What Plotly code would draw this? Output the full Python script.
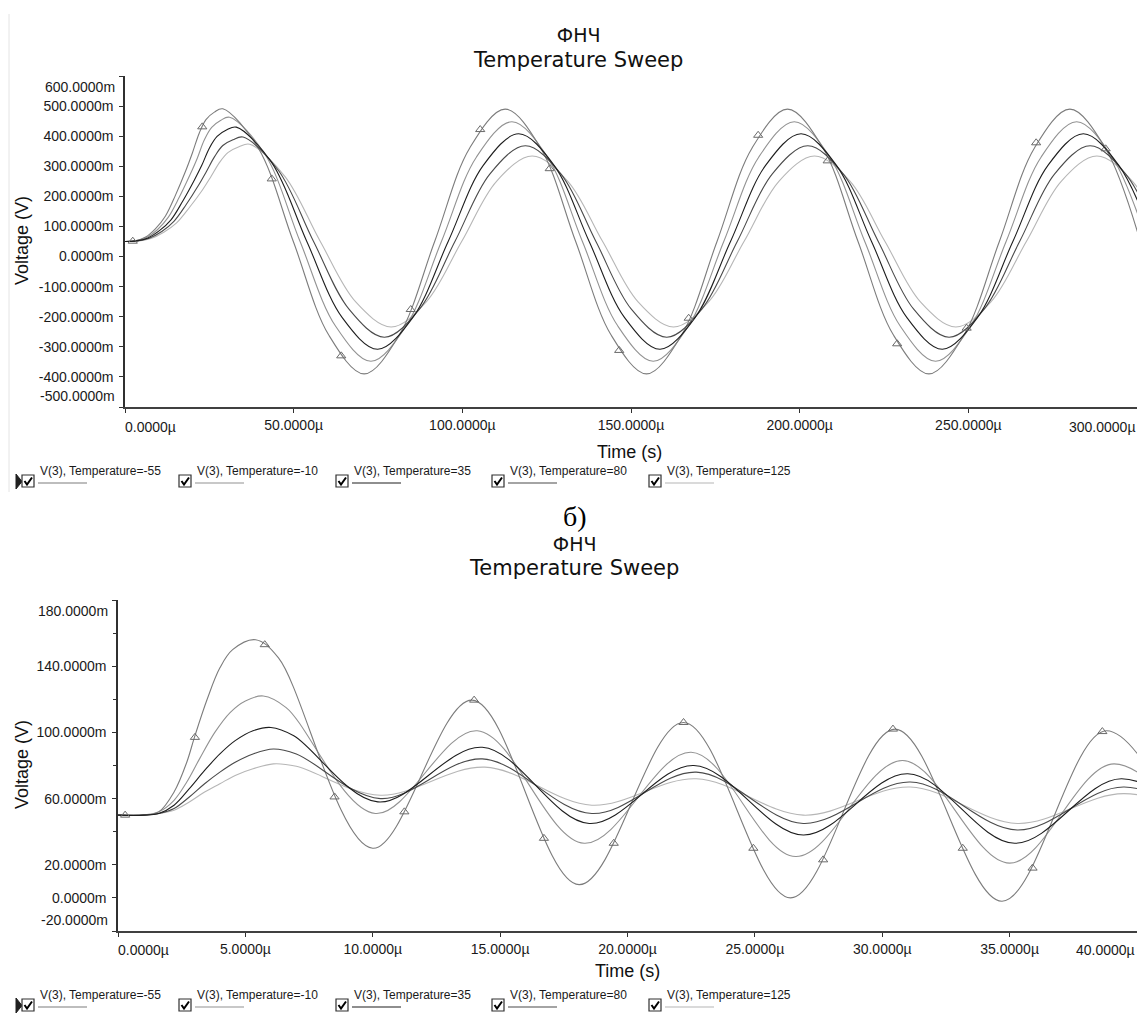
import plotly.graph_objects as go

W, H = 1137, 1024

series_names = ["V(3), Temperature=-55", "V(3), Temperature=-10", "V(3), Temperature=35",
                "V(3), Temperature=80", "V(3), Temperature=125"]
series_colors = ["#7c7c7c", "#929292", "#1e1e1e", "#4a4a4a", "#b6b6b6"]
draw_order = [4, 1, 0, 3, 2]

# ---------------- top chart (time in us, voltage in mV) ----------------
top_x_ticks = [0, 50, 100, 150, 200, 250, 300]
top_x_labels = ["0.0000µ", "50.0000µ", "100.0000µ", "150.0000µ", "200.0000µ", "250.0000µ", "300.0000µ"]
top_y_ticks = [-500, -400, -300, -200, -100, 0, 100, 200, 300, 400, 500, 600]
top_y_labels = ["-500.0000m", "-400.0000m", "-300.0000m", "-200.0000m", "-100.0000m", "0.0000m",
                "100.0000m", "200.0000m", "300.0000m", "400.0000m", "500.0000m", "600.0000m"]

top_t_m55 = [0, 3, 6, 9, 12, 15, 18, 20, 22, 24, 26.5,
             29.0, 39.5, 49.9, 60.4, 70.9, 81.3, 91.8, 102.2, 112.7, 123.2, 133.6, 144.1, 154.6, 165.0,
             175.5, 185.9, 196.4, 206.9, 217.3, 227.8, 238.3, 248.7, 259.2, 269.6, 280.1, 290.6, 301.0]
top_v_m55 = [50, 52, 64, 92, 135, 205, 285, 345, 410, 455, 480,
             491, 361, 50, -261, -390, -261, 50, 361, 490, 361, 50, -261, -390, -261,
             50, 361, 490, 361, 50, -261, -390, -261, 50, 361, 490, 361, 50]

top_t_m10 = [0, 3.2, 6.4, 9.6, 12.8, 16.0, 19.2, 21.4, 23.5, 25.7, 28.3,
             31.0, 41.5, 51.9, 62.4, 72.9, 83.3, 93.8, 104.2, 114.7, 125.2, 135.6, 146.1, 156.6, 167.0,
             177.5, 187.9, 198.4, 208.9, 219.3, 229.8, 240.3, 250.7, 261.2, 271.6, 282.1, 292.6, 303.0]
top_v_m10 = [50, 52, 63, 89, 130, 195, 270, 326, 387, 429, 452,
             463, 340, 50, -231, -348, -231, 50, 331, 448, 331, 50, -231, -348, -231,
             50, 331, 448, 331, 50, -231, -348, -231, 50, 331, 448, 331, 50]

top_t_35 = [0, 3.4, 6.8, 10.2, 13.7, 17.1, 20.5, 22.8, 25.0, 27.3, 30.2,
            33.0, 43.5, 53.9, 64.4, 74.9, 85.3, 95.8, 106.2, 116.7, 127.2, 137.6, 148.1, 158.6, 169.0,
            179.5, 189.9, 200.4, 210.9, 221.3, 231.8, 242.3, 252.7, 263.2, 273.6, 284.1, 294.6, 305.0]
top_v_35 = [50, 52, 62, 86, 123, 184, 253, 304, 360, 399, 421,
            430, 312, 50, -203, -308, -203, 50, 303, 408, 303, 50, -203, -308, -203,
            50, 303, 408, 303, 50, -203, -308, -203, 50, 303, 408, 303, 50]

top_t_80 = [0, 3.6, 7.2, 10.9, 14.5, 18.1, 21.7, 24.1, 26.6, 29.0, 32.0,
            35.0, 45.5, 55.9, 66.4, 76.9, 87.3, 97.8, 108.2, 118.7, 129.2, 139.6, 150.1, 160.6, 171.0,
            181.5, 191.9, 202.4, 212.9, 223.3, 233.8, 244.3, 254.7, 265.2, 275.6, 286.1, 296.6, 307.0]
top_v_80 = [50, 52, 61, 83, 117, 172, 235, 282, 333, 369, 388,
            397, 286, 50, -175, -268, -175, 50, 275, 368, 275, 50, -175, -268, -175,
            50, 275, 368, 275, 50, -175, -268, -175, 50, 275, 368, 275, 50]

top_t_125 = [0, 3.8, 7.7, 11.5, 15.3, 19.1, 23.0, 25.5, 28.1, 30.6, 33.8,
             37.0, 47.5, 57.9, 68.4, 78.9, 89.3, 99.8, 110.2, 120.7, 131.2, 141.6, 152.1, 162.6, 173.0,
             183.5, 193.9, 204.4, 214.9, 225.3, 235.8, 246.3, 256.7, 267.2, 277.6, 288.1, 298.6, 309.0]
top_v_125 = [50, 51, 60, 81, 112, 163, 222, 266, 314, 346, 365,
             373, 265, 50, -151, -234, -151, 50, 251, 334, 251, 50, -151, -234, -151,
             50, 251, 334, 251, 50, -151, -234, -151, 50, 251, 334, 251, 50]

top_marker_t = [2.3, 22.9, 43.5, 64.1, 84.7, 105.3, 125.9, 146.5, 167.1, 187.7, 208.3, 228.9, 249.5, 270.1, 290.7]
top_marker_v = [51, 431, 258, -330, -176, 422, 292, -312, -205, 403, 318, -290, -238, 378, 358]

# ---------------- bottom chart ----------------
bot_x_ticks = [0, 5, 10, 15, 20, 25, 30, 35, 40]
bot_x_labels = ["0.0000µ", "5.0000µ", "10.0000µ", "15.0000µ", "20.0000µ", "25.0000µ",
                "30.0000µ", "35.0000µ", "40.0000µ"]
bot_y_ticks = [-20, 0, 20, 60, 100, 140, 180]
bot_y_labels = ["-20.0000m", "0.0000m", "20.0000m", "60.0000m", "100.0000m", "140.0000m", "180.0000m"]
bot_y_minor = [40, 80, 120, 160]

bot_t_m55 = [0, 1.0, 1.6, 2.2, 2.7, 3.0, 3.5, 4.0, 4.5, 5.4, 6.3, 10.0, 13.9, 18.1, 22.2, 26.4, 30.5, 34.7, 38.8, 43.0]
bot_v_m55 = [50, 50, 52, 64, 82, 97, 120, 139, 150, 156, 145, 30, 119.5, 8, 106, 0, 102, -2, 101, -2]

bot_t_m10 = [0, 1.0, 1.6, 2.2, 2.7, 3.2, 3.8, 4.4, 5.0, 5.7, 6.6, 10.1, 14.1, 18.3, 22.5, 26.6, 30.8, 35.0, 39.1, 43.3]
bot_v_m10 = [50, 50, 52, 59, 70, 84, 100, 112, 119, 122, 115, 51, 101, 33, 88, 25, 83, 21, 81, 20]

bot_t_35 = [0, 1.0, 1.6, 2.2, 2.8, 3.4, 4.0, 4.6, 5.3, 6.0, 6.9, 10.2, 14.3, 18.5, 22.6, 26.9, 31.0, 35.2, 39.4, 43.6]
bot_v_35 = [50, 50, 51, 56, 66, 77, 87, 95, 101, 103, 98, 58, 91, 45, 80, 38, 75, 33, 72, 31]

bot_t_80 = [0, 1.0, 1.6, 2.2, 2.8, 3.4, 4.0, 4.6, 5.3, 6.1, 7.0, 10.3, 14.3, 18.6, 22.7, 26.9, 31.1, 35.3, 39.5, 43.7]
bot_v_80 = [50, 50, 51, 54, 61, 69, 76, 82, 87, 90, 87, 60, 84, 51, 76, 45, 70, 41, 67, 38]

bot_t_125 = [0, 1.0, 1.6, 2.2, 2.8, 3.4, 4.0, 4.6, 5.3, 6.1, 7.0, 10.3, 14.4, 18.6, 22.7, 26.9, 31.1, 35.3, 39.5, 43.7]
bot_v_125 = [50, 50, 51, 53, 58, 64, 69, 74, 78, 81, 79.5, 62, 79, 56, 72, 50, 67, 45, 63, 43]

bot_marker_t = [0.28, 3.02, 5.76, 8.5, 11.24, 13.98, 16.72, 19.46, 22.2, 24.94, 27.68, 30.42, 33.16, 35.9, 38.64]
bot_marker_v = [50, 97, 153, 61, 52, 119.5, 36, 33, 106, 30, 23, 102, 30, 18, 100.5]

top_series = [(top_t_m55, top_v_m55), (top_t_m10, top_v_m10), (top_t_35, top_v_35),
              (top_t_80, top_v_80), (top_t_125, top_v_125)]
bot_series = [(bot_t_m55, bot_v_m55), (bot_t_m10, bot_v_m10), (bot_t_35, bot_v_35),
              (bot_t_80, bot_v_80), (bot_t_125, bot_v_125)]

FONT = "Liberation Sans"
TITLE_FONT = "DejaVu Sans"
fig = go.Figure()

for series, xa, ya in [(top_series, "x", "y"), (bot_series, "x2", "y2")]:
    for i in draw_order:
        t, v = series[i]
        fig.add_trace(go.Scatter(x=t, y=v, mode="lines", name=series_names[i], xaxis=xa, yaxis=ya,
                                 line=dict(color=series_colors[i], width=1.1, shape="spline"),
                                 showlegend=False, hoverinfo="skip"))

for mt, mv, xa, ya in [(top_marker_t, top_marker_v, "x", "y"), (bot_marker_t, bot_marker_v, "x2", "y2")]:
    fig.add_trace(go.Scatter(x=mt, y=mv, mode="markers", name=series_names[0], xaxis=xa, yaxis=ya,
                             marker=dict(symbol="triangle-up-open", size=8, color="#6a6a6a",
                                         line=dict(width=1, color="#6a6a6a")),
                             showlegend=False, hoverinfo="skip"))


def blank_edges(labels):
    return [""] + labels[1:-1] + [""]


axis_style = dict(showgrid=False, zeroline=False, showline=True, ticks="outside", ticklen=4,
                  tickwidth=1, tickcolor="#303030",
                  tickfont=dict(family=FONT, size=14, color="#1a1a1a"))

fig.update_layout(
    width=W, height=H, margin=dict(l=0, r=0, t=0, b=0),
    paper_bgcolor="white", plot_bgcolor="white", showlegend=False,
    xaxis=dict(domain=[125 / W, 1], range=[0, 300], anchor="y", tickmode="array",
               tickvals=top_x_ticks, ticktext=blank_edges(top_x_labels),
               linecolor="#404040", linewidth=2, **axis_style),
    yaxis=dict(domain=[1 - 407 / H, 1 - 76 / H], range=[-500, 600], anchor="x", tickmode="array",
               tickvals=top_y_ticks, ticktext=blank_edges(top_y_labels), ticklabelstandoff=3,
               linecolor="#303030", linewidth=1.5, **axis_style),
    xaxis2=dict(domain=[118 / W, 1], range=[0, 40], anchor="y2", tickmode="array",
                tickvals=bot_x_ticks, ticktext=blank_edges(bot_x_labels),
                linecolor="#404040", linewidth=2, **axis_style),
    yaxis2=dict(domain=[1 - 931 / H, 1 - 600 / H], range=[-20, 180], anchor="x2", tickmode="array",
                tickvals=bot_y_ticks, ticktext=blank_edges(bot_y_labels), ticklabelstandoff=3,
                linecolor="#303030", linewidth=1.5,
                minor=dict(tickmode="array", tickvals=bot_y_minor, ticks="outside", ticklen=3,
                           tickcolor="#303030"),
                **axis_style),
)

ann = []
shapes = []


def text(t, x, y, size, xanchor="center", yanchor="middle", family=FONT, angle=0, color="#111111"):
    ann.append(dict(text=t, x=x / W, y=1 - y / H, xref="paper", yref="paper", xanchor=xanchor,
                    yanchor=yanchor, showarrow=False, textangle=angle, borderpad=0,
                    font=dict(family=family, size=size, color=color)))


# chart titles (one block each, so the lines share a single text box)
text("ФНЧ<br><span style='font-size:21px'>Temperature Sweep</span>", 578, 48, 19, family=TITLE_FONT)
text("<span style='font-family:Liberation Serif;font-size:28px;color:#000'>б)</span><br>"
     "ФНЧ<br><span style='font-size:21px'>Temperature Sweep</span>", 574, 540, 19, family=TITLE_FONT)

# axis titles
text("Voltage (V)", 22, 241, 18, angle=-90)
text("Voltage (V)", 22, 765, 18, angle=-90)
text("Time (s)", 629, 452, 18)
text("Time (s)", 627, 971, 18)

# edge tick labels (shifted inward, as in the original)
tick_font = dict(family=FONT, size=14, color="#1a1a1a")
for xa, ticks, labels, ypx in [("x", top_x_ticks, top_x_labels, 427), ("x2", bot_x_ticks, bot_x_labels, 950)]:
    ann.append(dict(text=labels[0], x=ticks[0], xref=xa, y=1 - ypx / H, yref="paper", xanchor="left",
                    yanchor="middle", showarrow=False, font=tick_font, xshift=-2))
    ann.append(dict(text=labels[-1], x=ticks[-1], xref=xa, y=1 - ypx / H, yref="paper", xanchor="right",
                    yanchor="middle", showarrow=False, font=tick_font))
for ya, ticks, labels, xpx in [("y", top_y_ticks, top_y_labels, 117), ("y2", bot_y_ticks, bot_y_labels, 110)]:
    ann.append(dict(text=labels[-1], y=ticks[-1], yref=ya, x=xpx / W, xref="paper", xanchor="right",
                    yanchor="top", showarrow=False, font=tick_font, yshift=-1))
    ann.append(dict(text=labels[0], y=ticks[0], yref=ya, x=xpx / W, xref="paper", xanchor="right",
                    yanchor="bottom", showarrow=False, font=tick_font, yshift=1))

# legends (check box + label + line sample)
legend_x = [22, 179, 336, 492, 649]
for text_y, box_top in [(471, 475), (995, 999)]:
    shapes.append(dict(type="path", xref="paper", yref="paper",
                       path=f"M {16/W},{1-(box_top-1)/H} L {16/W},{1-(box_top+14)/H} L {22/W},{1-(box_top+6.5)/H} Z",
                       fillcolor="#202020", line=dict(color="#202020", width=1)))
    for i, bx in enumerate(legend_x):
        x0, x1 = bx / W, (bx + 12) / W
        y0, y1 = 1 - box_top / H, 1 - (box_top + 12) / H
        shapes.append(dict(type="rect", xref="paper", yref="paper", x0=x0, x1=x1, y0=y1, y1=y0,
                           line=dict(color="#303030", width=1.2), fillcolor="white"))
        shapes.append(dict(type="path", xref="paper", yref="paper",
                           path=(f"M {(bx+2.5)/W},{1-(box_top+6)/H} L {(bx+5)/W},{1-(box_top+9.5)/H} "
                                 f"L {(bx+10)/W},{1-(box_top+2.5)/H}"),
                           line=dict(color="#000000", width=2)))
        tx = bx + 16
        ann.append(dict(text=series_names[i], x=tx / W, y=1 - text_y / H, xref="paper", yref="paper",
                        xanchor="left", yanchor="middle", showarrow=False,
                        font=dict(family=FONT, size=12, color="#1a1a1a")))
        uy = 1 - (box_top + 8) / H
        shapes.append(dict(type="line", xref="paper", yref="paper", x0=tx / W, x1=(tx + 49) / W,
                           y0=uy, y1=uy, line=dict(color=series_colors[i], width=1.2)))

shapes.append(dict(type="line", xref="paper", yref="paper", x0=9 / W, x1=9 / W, y0=1 - 14 / H, y1=1 - 492 / H,
                   line=dict(color="#e4e4e4", width=1)))

fig.update_layout(annotations=ann, shapes=shapes)
fig.write_html("out.html", config={"displayModeBar": False},
               post_script="document.body.style.margin='0';document.body.style.overflow='hidden';")
